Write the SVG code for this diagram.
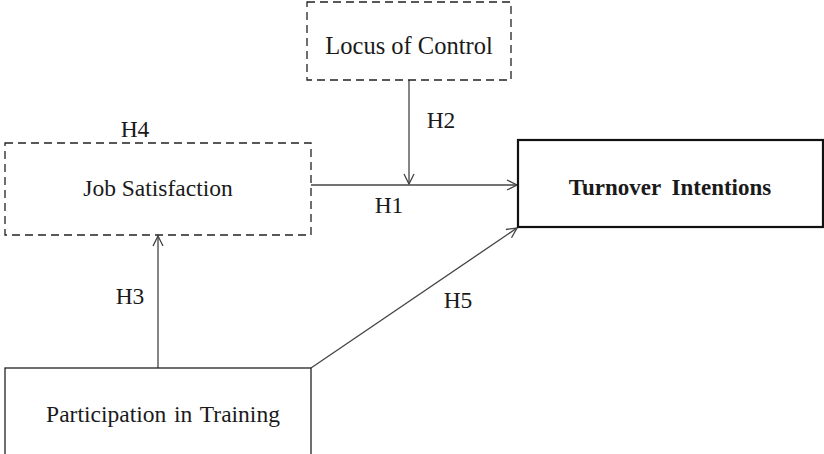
<svg xmlns="http://www.w3.org/2000/svg" width="824" height="454" viewBox="0 0 824 454">
<style>
.box{fill:#fff;stroke:#222;stroke-width:1.3}
.dash{stroke-dasharray:8 5}
.bold{stroke-width:2.2;stroke:#111}
.t{font-family:"Liberation Serif","Times New Roman",serif;font-size:23.5px;fill:#1a1a1a;text-anchor:middle}
.b{font-weight:bold}
.c{stroke:#444;stroke-width:1.3;fill:none;marker-end:url(#ah)}
</style>
<defs>
<marker id="ah" viewBox="0 0 12 12" refX="11" refY="6" markerWidth="12" markerHeight="12" markerUnits="userSpaceOnUse" orient="auto">
<path d="M1,1 L11,6 L1,11" fill="none" stroke="#444" stroke-width="1.3"/>
</marker>
</defs>
<rect width="824" height="454" fill="#fff"/>
<g id="connectors">
<line class="c" x1="311" y1="185" x2="517" y2="185"/>
<line class="c" x1="409" y1="80" x2="409" y2="184"/>
<line class="c" x1="158" y1="368" x2="158" y2="236"/>
<line class="c" x1="311" y1="368" x2="517" y2="228"/>
<text class="t" x="441" y="128">H2</text>
<text class="t" x="389" y="213">H1</text>
<text class="t" x="135" y="137">H4</text>
<text class="t" x="130" y="304">H3</text>
<text class="t" x="458" y="308">H5</text>
</g>
<g id="locus">
<rect class="box dash" x="307" y="2" width="204" height="78"/>
<text class="t" x="409" y="54" style="font-size:24.5px">Locus of Control</text>
</g>
<g id="job">
<rect class="box dash" x="5" y="143" width="306" height="92"/>
<text class="t" x="158" y="196">Job Satisfaction</text>
</g>
<g id="turnover">
<rect class="box bold" x="518" y="140" width="305" height="87"/>
<text class="t b" x="670" y="195" style="font-size:23px;word-spacing:5px">Turnover Intentions</text>
</g>
<g id="training">
<rect class="box" x="5" y="368" width="306" height="90"/>
<text class="t" x="163" y="422" style="word-spacing:2px">Participation in Training</text>
</g>
</svg>
